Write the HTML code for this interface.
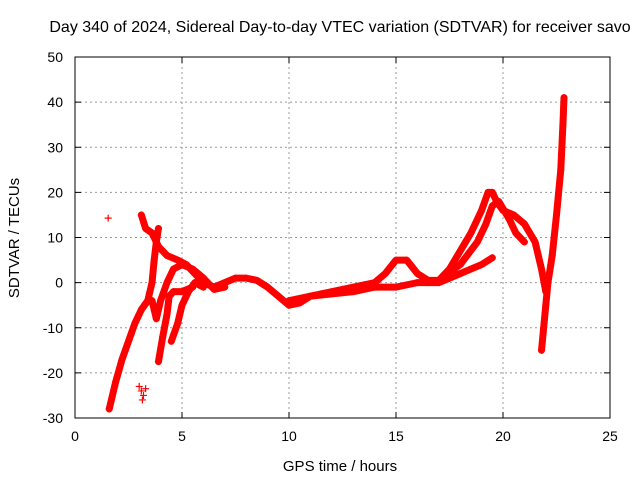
<!DOCTYPE html>
<html><head><meta charset="utf-8"><style>
body{margin:0;background:#fff}
svg{display:block;font-family:"Liberation Sans",sans-serif}
</style></head><body>
<svg id="chart" width="640" height="480" viewBox="0 0 640 480">
<rect width="640" height="480" fill="#fff"/>
<text x="340" y="32" font-size="16" text-anchor="middle">Day 340 of 2024, Sidereal Day-to-day VTEC variation (SDTVAR) for receiver savo</text>
<text x="340" y="471" font-size="15" text-anchor="middle">GPS time / hours</text>
<text transform="translate(19,238) rotate(-90)" font-size="15" text-anchor="middle">SDTVAR / TECUs</text>
<g id="grid"></g>
<g id="axes"></g>
<g id="marks"></g>
</svg>
<script>
const xTicks=[0,5,10,15,20,25];
const yTicks=[-30,-20,-10,0,10,20,30,40,50];
const strandA=[[1.6,-28],[1.9,-22],[2.2,-17],[2.5,-13],[2.8,-9],[3.1,-6],[3.4,-4],[3.6,0],[3.7,5],[3.8,9],[3.9,12]];
const strandB=[[3.1,15],[3.3,12],[3.6,11],[3.9,8],[4.3,6],[4.8,5],[5.2,4],[5.6,2],[6.0,0],[6.5,-1],[7.0,0],[7.5,1],[8.0,1],[8.5,0.5],[9,-1],[9.5,-3],[10,-5],[10.5,-4.5],[11,-3],[11.5,-2.5],[12,-2],[12.5,-1.5],[13,-1],[13.5,-0.5],[14,0],[14.5,2],[15,5],[15.5,5],[16,2],[16.5,0.5],[17,0.5],[17.5,3],[18,7],[18.5,11],[19,16],[19.3,20],[19.5,20],[19.7,18],[20,16],[20.5,15],[21,13],[21.5,9],[21.8,3],[22,-2]];
const strandC=[[3.6,-4],[3.8,-8],[4.0,-4],[4.3,0],[4.6,3],[5,4],[5.5,3],[6,1],[6.5,-1.5],[7,-1]];
const strandD=[[3.9,-17.5],[4.1,-12],[4.3,-7],[4.4,-3],[4.6,-2],[5,-2],[5.5,-1]];
const strandE=[[4.5,-13],[4.8,-9],[5,-5],[5.3,-2],[5.6,0],[6,-1]];
const strandF=[[10,-4],[11,-3],[12,-2.5],[13,-2],[14,-1],[15,-1],[16,0],[17,0],[17.5,1],[18,2],[18.5,3],[19,4],[19.5,5.5]];
const strandG=[[17,0.5],[18,4],[18.8,9],[19.2,13],[19.5,17],[19.8,18],[20.3,14],[20.6,11],[21,9]];
const strandTail=[[21.8,-15],[21.9,-10],[22,-5],[22.1,0],[22.3,6],[22.5,15],[22.7,25],[22.8,35],[22.85,41]];
const isolated=[[1.55,14.3],[3.0,-23],[3.1,-24],[3.2,-25],[3.3,-23.5],[3.15,-26]];
const NS="http://www.w3.org/2000/svg";
const X0=75,X1=610,Y0=418,Y1=57;
const sx=v=>X0+(v-0)/(25-0)*(X1-X0);
const sy=v=>Y0-(v+30)/(80)*(Y0-Y1);
function mk(t,a,p){const e=document.createElementNS(NS,t);for(const k in a)e.setAttribute(k,a[k]);p.appendChild(e);return e;}
const grid=document.getElementById('grid'),axes=document.getElementById('axes'),marks=document.getElementById('marks');
mk('rect',{x:X0,y:Y1,width:X1-X0,height:Y0-Y1,fill:'none',stroke:'#000','stroke-width':1},axes);
xTicks.forEach(t=>{const x=sx(t);
 if(t>0&&t<25){const g=mk('line',{x1:x,x2:x,y1:Y1,y2:Y0,stroke:'#999','stroke-dasharray':'2,3'},grid);}
 mk('line',{x1:x,x2:x,y1:Y0,y2:Y0-6,stroke:'#000'},axes);mk('line',{x1:x,x2:x,y1:Y1,y2:Y1+6,stroke:'#000'},axes);
 const l=mk('text',{x:x,y:Y0+23,'font-size':14,'text-anchor':'middle'},axes);l.textContent=t;
 });
yTicks.forEach(t=>{const y=sy(t);
 if(t>-30&&t<50){const g=mk('line',{x1:X0,x2:X1,y1:y,y2:y,stroke:'#999','stroke-dasharray':'2,3'},grid);}
 mk('line',{x1:X0,x2:X0+6,y1:y,y2:y,stroke:'#000'},axes);mk('line',{x1:X1,x2:X1-6,y1:y,y2:y,stroke:'#000'},axes);
 const l=mk('text',{x:X0-12,y:y+5,'font-size':14,'text-anchor':'end'},axes);l.textContent=t;
 });
const strands=[strandA,strandB,strandC,strandD,strandE,strandF,strandG,strandTail];
strands.forEach(s=>{
 const pl=mk('polyline',{points:s.map(p=>sx(p[0])+','+sy(p[1])).join(' '),fill:'none',stroke:'#f00','stroke-width':7,'stroke-linejoin':'round','stroke-linecap':'round'},marks);
 
 
});
strands.concat([isolated]).forEach(s=>s.forEach(p=>{
 const x=sx(p[0]),y=sy(p[1]);
 const m=mk('path',{d:`M${x-3.5},${y}H${x+3.5}M${x},${y-3.5}V${y+3.5}`,stroke:'#f00','stroke-width':1.2},marks);
 
 
}));
</script>
</body></html>
